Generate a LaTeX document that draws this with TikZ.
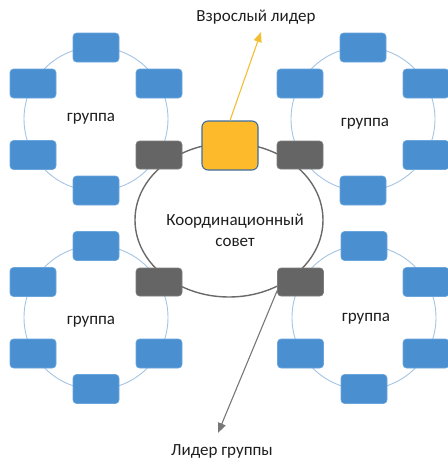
\documentclass[tikz,border=0pt]{standalone}
\usepackage{fontspec}
\setmainfont{Carlito}
\usetikzlibrary{arrows.meta,calc,shapes.geometric}
\definecolor{boxblue}{HTML}{4A90D0}
\definecolor{boxblueline}{HTML}{6AA5DC}
\definecolor{ringblue}{HTML}{A3C4E2}
\definecolor{darkbox}{HTML}{656565}
\definecolor{yelbox}{HTML}{FDBB2B}
\definecolor{yelline}{HTML}{3F6E9E}
\definecolor{yelarrow}{HTML}{F4BE33}
\definecolor{council}{HTML}{6A6A6A}
\definecolor{garrow}{HTML}{777777}
\definecolor{txt}{HTML}{1E1E1E}
\tikzset{
  member/.style={rectangle, rounded corners=3.5pt, minimum width=46pt, minimum height=29pt, fill=boxblue, draw=boxblueline, line width=0.6pt, inner sep=0pt},
  rep/.style={rectangle, rounded corners=3.5pt, minimum width=46pt, minimum height=28pt, fill=darkbox, draw=darkbox!85!white, line width=0.6pt, inner sep=0pt},
  adult/.style={rectangle, rounded corners=6pt, minimum width=56pt, minimum height=49pt, fill=yelbox, draw=yelline, line width=1.1pt, inner sep=0pt},
  ring/.style={circle, draw=ringblue, line width=0.9pt, minimum size=144pt, inner sep=0pt},
  councilring/.style={ellipse, draw=council, line width=1.4pt, minimum width=188pt, minimum height=154pt, inner sep=0pt},
  lbl/.style={font=\fontsize{17pt}{21pt}\selectfont, text=txt, inner sep=0pt},
  yarr/.style={draw=yelarrow, line width=1.1pt, -{Triangle[length=10pt,width=8pt]}},
  garr/.style={draw=garrow, line width=1.1pt, -{Triangle[length=10pt,width=8pt]}}
}
\begin{document}
\begin{tikzpicture}[x=1pt,y=-1pt]
\useasboundingbox (0,0) rectangle (448,459);
\clip (0,0) rectangle (448,459);
% council ellipse
\node[councilring] (co) at (229,220) {};
\node[lbl, align=center] (cotext) at (235,230) {Координационный\\совет};
% group rings
\node[ring] (r1) at (96,119) {};
\node[ring] (r2) at (363,119) {};
\node[ring] (r3) at (96,317.5) {};
\node[ring] (r4) at (364,317.5) {};
\node[lbl] (t1) at (91,119) {группа};
\node[lbl] (t2) at (365,124) {группа};
\node[lbl] (t3) at (91,322) {группа};
\node[lbl] (t4) at (366,319) {группа};
% group 1 (top-left)
\node[member] (a1) at (96,47.5) {};
\node[member] (a2) at (33,83.5) {};
\node[member] (a3) at (159,83.5) {};
\node[member] (a4) at (33,155) {};
\node[rep]    (d1) at (159,155) {};
\node[member] (a6) at (96,190.5) {};
% group 2 (top-right)
\node[member] (b1) at (363,47.5) {};
\node[member] (b2) at (300,83.5) {};
\node[member] (b3) at (426,83.5) {};
\node[rep]    (d2) at (300,155) {};
\node[member] (b5) at (426,155) {};
\node[member] (b6) at (363,190.5) {};
% group 3 (bottom-left)
\node[member] (c1) at (96,246) {};
\node[member] (c2) at (33,282) {};
\node[rep]    (d3) at (159,282) {};
\node[member] (c4) at (33,353.5) {};
\node[member] (c5) at (159,353.5) {};
\node[member] (c6) at (96,389) {};
% group 4 (bottom-right)
\node[member] (e1) at (364,246) {};
\node[rep]    (d4) at (300.5,282) {};
\node[member] (e3) at (426,282) {};
\node[member] (e4) at (300.5,353.5) {};
\node[member] (e5) at (426,353.5) {};
\node[member] (e6) at (364,389) {};
% adult leader
\node[adult] (yl) at (230,145.5) {};
% labels and arrows
\node[lbl] (adulttext) at (256,17) {Взрослый лидер};
\node[lbl] (leadtext) at (222,451) {Лидер группы};
\coordinate (ytip) at (261,32);
\coordinate (gtip) at (218,433);
\draw[yarr] (yl.north) -- (ytip);
\draw[garr] (d4.200) -- (gtip);
\end{tikzpicture}
\end{document}
